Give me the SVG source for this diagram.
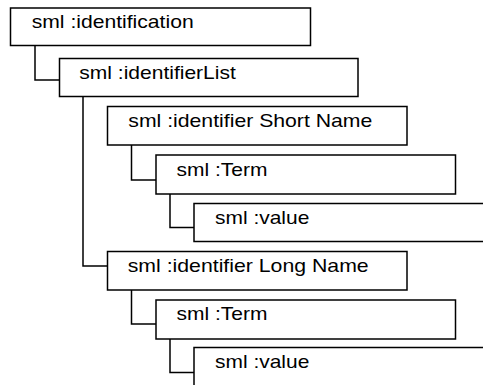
<svg xmlns="http://www.w3.org/2000/svg" width="483" height="385" viewBox="0 0 483 385">
  <style>
    .box { fill: #ffffff; stroke: #000000; stroke-width: 1.5; }
    .link { fill: none; stroke: #000000; stroke-width: 1.5; }
    .label { font-family: "Liberation Sans", Arial, sans-serif; font-size: 18.5px; fill: #000000; }
  </style>
  <rect width="483" height="385" fill="#ffffff"/>

  <!-- tree connectors -->
  <g id="connectors">
    <path class="link" d="M35 45.5 V80 H59.5"/>
    <path class="link" d="M83 96.5 V266 H107.5"/>
    <path class="link" d="M131.5 145 V180 H156"/>
    <path class="link" d="M170 194 V227.5 H194"/>
    <path class="link" d="M131.5 290 V324 H156"/>
    <path class="link" d="M170 339 V372.5 H194"/>
  </g>

  <g id="identification">
    <rect class="box" x="10.5" y="8" width="300" height="37.5"/>
    <text class="label" x="31.7" y="28" textLength="162" lengthAdjust="spacingAndGlyphs">sml :identification</text>
  </g>

  <g id="identifierList">
    <rect class="box" x="59.5" y="58.5" width="298.5" height="38"/>
    <text class="label" x="79.3" y="79.3" textLength="156.5" lengthAdjust="spacingAndGlyphs">sml :identifierList</text>
  </g>

  <g id="identifier-short">
    <rect class="box" x="107.5" y="106.5" width="299.5" height="38.5"/>
    <text class="label" x="128.3" y="126.7" textLength="244" lengthAdjust="spacingAndGlyphs">sml :identifier Short Name</text>
  </g>

  <g id="term-short">
    <rect class="box" x="156" y="155" width="299.5" height="39"/>
    <text class="label" x="176.5" y="175.5" textLength="91" lengthAdjust="spacingAndGlyphs">sml :Term</text>
  </g>

  <g id="value-short">
    <rect class="box" x="194" y="203.5" width="310" height="38"/>
    <text class="label" x="215" y="224" textLength="94.3" lengthAdjust="spacingAndGlyphs">sml :value</text>
  </g>

  <g id="identifier-long">
    <rect class="box" x="107.5" y="251.5" width="299.5" height="38.5"/>
    <text class="label" x="127.7" y="271.7" textLength="241" lengthAdjust="spacingAndGlyphs">sml :identifier Long Name</text>
  </g>

  <g id="term-long">
    <rect class="box" x="156" y="300" width="299.5" height="39"/>
    <text class="label" x="176.5" y="319.5" textLength="91" lengthAdjust="spacingAndGlyphs">sml :Term</text>
  </g>

  <g id="value-long">
    <rect class="box" x="194" y="347.5" width="310" height="60"/>
    <text class="label" x="215" y="368.3" textLength="94.3" lengthAdjust="spacingAndGlyphs">sml :value</text>
  </g>
</svg>
